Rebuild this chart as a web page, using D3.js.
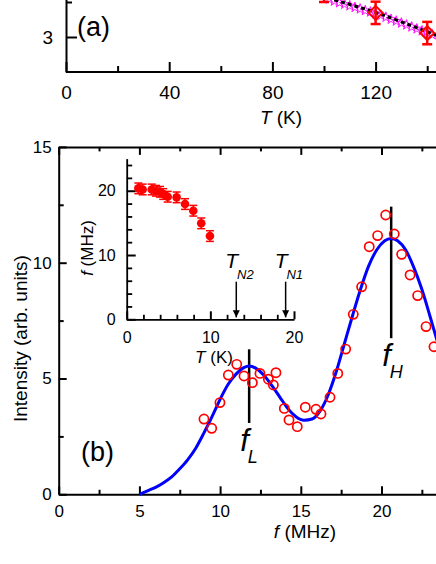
<!DOCTYPE html>
<html>
<head>
<meta charset="utf-8">
<script src="https://cdn.jsdelivr.net/npm/d3@7"></script>
<style>
html, body { margin: 0; padding: 0; background: #fff; }
svg { display: block; font-family: "Liberation Sans", Arial, sans-serif; }
</style>
</head>
<body>
<div id="chart"></div>
<script>
// ---- panel (a), only its lower edge is visible ----
const aTemp = [100, 120, 140];
const aValue = [3.66, 3.345, 3.056];
const aError = [0.16, 0.16, 0.16];
const aStarTemp = [102, 104, 106, 108, 110, 112, 114, 116, 118, 120, 122, 124, 126, 128, 130, 132, 134, 136, 138, 140, 142];
const aStarValue = [3.542, 3.513, 3.49, 3.468, 3.446, 3.423, 3.401, 3.378, 3.358, 3.335, 3.309, 3.282, 3.254, 3.228, 3.2, 3.172, 3.144, 3.116, 3.088, 3.06, 3.032];
const aFitTemp = [104, 120, 140, 146];
const aFitValue = [3.53, 3.35, 3.075, 2.99];
const aTicks = [0, 40, 80, 120];

// ---- panel (b), spectrum ----
const freq = [9.0, 9.48, 9.99, 10.51, 11.03, 11.48, 12.0, 12.47, 12.99, 13.3, 13.46, 13.98, 14.27, 14.78, 15.28, 15.94, 16.25, 16.81, 17.29, 17.78, 18.25, 18.77, 19.24, 19.76, 20.26, 20.79, 21.25, 21.77, 22.24, 22.76, 23.25];
const intensity = [3.25, 2.85, 3.96, 5.15, 5.61, 5.11, 4.82, 5.22, 4.97, 4.72, 5.25, 3.71, 3.21, 2.92, 3.76, 3.67, 3.47, 4.19, 5.22, 6.27, 7.77, 8.96, 10.69, 11.17, 12.06, 11.24, 10.36, 9.47, 8.58, 7.24, 6.37];
const fitFreq = [5, 5.5, 6, 6.5, 7, 7.5, 8, 8.5, 9, 9.5, 10, 10.5, 11, 11.5, 11.8, 12.2, 12.7, 13.2, 13.7, 14.2, 14.7, 15.2, 15.7, 16.2, 16.7, 17.2, 17.7, 18.2, 18.7, 19.2, 19.7, 20.2, 20.6, 21.0, 21.5, 22.0, 22.5, 23.0, 23.5];
const fitIntensity = [0, 0.15, 0.3, 0.5, 0.75, 1.1, 1.5, 2.0, 2.65, 3.35, 4.1, 4.75, 5.2, 5.48, 5.54, 5.45, 5.15, 4.7, 4.2, 3.7, 3.35, 3.2, 3.25, 3.6, 4.3, 5.3, 6.5, 7.7, 8.85, 9.85, 10.55, 10.95, 11.05, 10.95, 10.55, 9.8, 8.85, 7.7, 6.5];
const peakNames = ["L", "H"];
const peakFreq = [11.8, 20.6];
const peakTop = [6.26, 12.42];
const peakBottom = [3.08, 6.74];
const bTicks = [0, 5, 10, 15, 20];
const bYTicks = [0, 5, 10, 15];

// ---- inset, f versus T ----
const insetTemp = [1.39, 1.91, 2.99, 3.5, 3.98, 4.37, 4.9, 5.97, 6.97, 7.96, 8.91, 9.95];
const insetFreq = [20.37, 20.2, 20.2, 20.0, 19.84, 19.49, 19.07, 18.97, 17.93, 16.89, 14.93, 12.95];
const insetError = [0.83, 0.83, 0.83, 0.83, 0.83, 0.83, 0.83, 0.83, 0.83, 0.83, 0.83, 0.83];
const transitionNames = ["N2", "N1"];
const transitionTemp = [13.1, 19.0];

const width = 436, height = 564;
const svg = d3.select("#chart").append("svg")
    .attr("width", width)
    .attr("height", height);
svg.append("rect").attr("width", width).attr("height", height).attr("fill", "#fff");

// style helper for the axes
function styleAxis(g, fontSize) {
    g.select(".domain").attr("stroke", "#000").attr("stroke-width", 2);
    g.selectAll(".tick line").attr("stroke", "#000").attr("stroke-width", 2);
    g.selectAll(".tick text").attr("fill", "#000")
        .attr("font-size", fontSize + "px")
        .attr("font-family", "'Liberation Sans', Arial, sans-serif");
}
function minorTicks(g, w) {
    g.select(".domain").remove();
    g.selectAll("line").attr("stroke", "#000").attr("stroke-width", w || 2);
}

// ================= panel (a) =================
const xA = d3.scaleLinear().domain([0, 160]).range([66, 66 + 160 * 2.58]);
const yA = d3.scaleLinear().domain([2.5, 4]).range([72, 72 - 1.5 * 70]);

const aX = svg.append("g").attr("transform", `translate(0,${yA(2.5)})`)
    .call(d3.axisBottom(xA).tickValues(aTicks).tickSizeInner(-10).tickSizeOuter(0).tickPadding(14));
styleAxis(aX, 19);
aX.select(".domain").attr("d", `M${xA(0)},0H${xA(160)}`);
svg.append("g").attr("transform", `translate(0,${yA(2.5)})`)
    .call(d3.axisBottom(xA).tickValues([20, 60, 100, 140]).tickSize(-6).tickFormat(""))
    .call(g => minorTicks(g));

const aY = svg.append("g").attr("transform", `translate(${xA(0)},0)`)
    .call(d3.axisLeft(yA).tickValues([3]).tickFormat(d3.format("d")).tickSizeInner(-11).tickSizeOuter(0).tickPadding(13));
styleAxis(aY, 19);
svg.append("g").attr("transform", `translate(${xA(0)},0)`)
    .call(d3.axisLeft(yA).tickValues([3.5]).tickSize(-6).tickFormat(""))
    .call(g => minorTicks(g));

// stars
svg.append("g").selectAll("path")
    .data(aStarTemp)
    .join("path")
    .attr("transform", (d, i) => `translate(${xA(d)},${yA(aStarValue[i])})`)
    .attr("d", d3.symbol(d3.symbolStar, 32))
    .attr("fill", "none")
    .attr("stroke", "#ff00ff")
    .attr("stroke-width", 0.9);

// dashed fit
svg.append("path")
    .datum(aFitTemp)
    .attr("d", d3.line().x(d => xA(d)).y((d, i) => yA(aFitValue[i])).curve(d3.curveMonotoneX))
    .attr("fill", "none")
    .attr("stroke", "#000")
    .attr("stroke-width", 3)
    .attr("stroke-dasharray", "4,3");

// diamonds with error bars
const aPts = svg.append("g").selectAll("g").data(aTemp).join("g");
aPts.append("line")
    .attr("x1", d => xA(d)).attr("x2", d => xA(d))
    .attr("y1", (d, i) => yA(aValue[i] + aError[i]))
    .attr("y2", (d, i) => yA(aValue[i] - aError[i]))
    .attr("stroke", "#ff0000").attr("stroke-width", 2.5);
[1, -1].forEach(s => {
    aPts.append("line")
        .attr("x1", d => xA(d) - 5).attr("x2", d => xA(d) + 5)
        .attr("y1", (d, i) => yA(aValue[i] + s * aError[i]))
        .attr("y2", (d, i) => yA(aValue[i] + s * aError[i]))
        .attr("stroke", "#ff0000").attr("stroke-width", 2.5);
});
aPts.append("path")
    .attr("transform", (d, i) => `translate(${xA(d)},${yA(aValue[i])})`)
    .attr("d", "M0,-7L7,0L0,7L-7,0Z")
    .attr("fill", "none")
    .attr("stroke", "#ff0000")
    .attr("stroke-width", 2);

svg.append("text").attr("x", 77).attr("y", 36)
    .attr("font-size", "27px").text("(a)");

const aTitle = svg.append("text").attr("x", 281).attr("y", 124)
    .attr("text-anchor", "middle").attr("font-size", "19px");
aTitle.append("tspan").attr("font-style", "italic").text("T");
aTitle.append("tspan").text(" (K)");

// ================= panel (b) =================
const xB = d3.scaleLinear().domain([0, 25]).range([58.7, 58.7 + 25 * 16.14]);
const yB = d3.scaleLinear().domain([0, 15]).range([494.3, 146.9]);

const bX = svg.append("g").attr("transform", `translate(0,${yB(0)})`)
    .call(d3.axisBottom(xB).tickValues(bTicks).tickSizeInner(-8).tickSizeOuter(0).tickPadding(11));
styleAxis(bX, 17);
svg.append("g").attr("transform", `translate(0,${yB(0)})`)
    .call(d3.axisBottom(xB).tickValues([2.5, 7.5, 12.5, 17.5, 22.5]).tickSize(-4.5).tickFormat(""))
    .call(g => minorTicks(g));

const bTop = svg.append("g").attr("transform", `translate(0,${yB(15)})`)
    .call(d3.axisTop(xB).tickValues(bTicks).tickSizeInner(-8).tickSizeOuter(0).tickFormat(""));
styleAxis(bTop, 17);
svg.append("g").attr("transform", `translate(0,${yB(15)})`)
    .call(d3.axisTop(xB).tickValues([2.5, 7.5, 12.5, 17.5, 22.5]).tickSize(-4.5).tickFormat(""))
    .call(g => minorTicks(g));

const bY = svg.append("g").attr("transform", `translate(${xB(0)},0)`)
    .call(d3.axisLeft(yB).tickValues(bYTicks).tickSizeInner(-8).tickSizeOuter(0).tickPadding(7));
styleAxis(bY, 17);
svg.append("g").attr("transform", `translate(${xB(0)},0)`)
    .call(d3.axisLeft(yB).tickValues([2.5, 7.5, 12.5]).tickSize(-5).tickFormat(""))
    .call(g => minorTicks(g));

svg.append("text")
    .attr("transform", `translate(27,${(yB(0) + yB(15)) / 2 + 18}) rotate(-90)`)
    .attr("text-anchor", "middle").attr("font-size", "19px")
    .text("Intensity (arb. units)");

const bTitle = svg.append("text").attr("x", 305).attr("y", 538)
    .attr("text-anchor", "middle").attr("font-size", "19px");
bTitle.append("tspan").attr("font-style", "italic").text("f");
bTitle.append("tspan").text(" (MHz)");

svg.append("text").attr("x", 81).attr("y", 461)
    .attr("font-size", "27px").text("(b)");

// peak markers
peakFreq.forEach((f, i) => {
    svg.append("line")
        .attr("x1", xB(f)).attr("x2", xB(f))
        .attr("y1", yB(peakTop[i])).attr("y2", yB(peakBottom[i]))
        .attr("stroke", "#000").attr("stroke-width", 2.5);
    const t = svg.append("text")
        .attr("x", xB(f) - 9).attr("y", yB(peakBottom[i]) + 28)
        .attr("font-style", "italic").attr("font-size", "31px");
    t.append("tspan").text("f");
    t.append("tspan").attr("font-size", "18px").attr("dx", -1).attr("dy", 12).text(peakNames[i]);
});

// fit curve
svg.append("path")
    .datum(fitFreq)
    .attr("d", d3.line().x(d => xB(d)).y((d, i) => yB(fitIntensity[i])).curve(d3.curveMonotoneX))
    .attr("fill", "none")
    .attr("stroke", "#0000ff")
    .attr("stroke-width", 3);

// data circles
svg.append("g").selectAll("circle")
    .data(freq)
    .join("circle")
    .attr("cx", d => xB(d))
    .attr("cy", (d, i) => yB(intensity[i]))
    .attr("r", 4.6)
    .attr("fill", "none")
    .attr("stroke", "#ff0000")
    .attr("stroke-width", 1.7);

// ================= inset =================
const xI = d3.scaleLinear().domain([0, 20]).range([126.7, 294]);
const yI = d3.scaleLinear().domain([0, 25]).range([319.3, 158.6]);

const iX = svg.append("g").attr("transform", `translate(0,${yI(0)})`)
    .call(d3.axisBottom(xI).tickValues([0, 10, 20]).tickSizeInner(-8).tickSizeOuter(0).tickPadding(12));
styleAxis(iX, 16);
svg.append("g").attr("transform", `translate(0,${yI(0)})`)
    .call(d3.axisBottom(xI).tickValues(d3.range(2, 20, 2).filter(d => d !== 10)).tickSize(-4.5).tickFormat(""))
    .call(g => minorTicks(g, 1.8));

const iY = svg.append("g").attr("transform", `translate(${xI(0)},0)`)
    .call(d3.axisLeft(yI).tickValues([0, 10, 20]).tickSizeInner(-9).tickSizeOuter(0).tickPadding(11));
styleAxis(iY, 16);
svg.append("g").attr("transform", `translate(${xI(0)},0)`)
    .call(d3.axisLeft(yI).tickValues(d3.range(2, 25, 2).filter(d => d !== 10 && d !== 20)).tickSize(-5.5).tickFormat(""))
    .call(g => minorTicks(g, 1.8));
iX.select(".domain").attr("stroke-width", 1.8);
iY.select(".domain").attr("stroke-width", 1.8);

const iXTitle = svg.append("text").attr("x", 214).attr("y", 363)
    .attr("text-anchor", "middle").attr("font-size", "17px");
iXTitle.append("tspan").attr("font-style", "italic").text("T");
iXTitle.append("tspan").text(" (K)");

const iYTitle = svg.append("text")
    .attr("transform", `translate(93,248) rotate(-90)`)
    .attr("text-anchor", "middle").attr("font-size", "17px");
iYTitle.append("tspan").attr("font-style", "italic").text("f");
iYTitle.append("tspan").text(" (MHz)");

// transition arrows
svg.append("defs").append("marker")
    .attr("id", "arrowHead")
    .attr("viewBox", "0 0 10 10")
    .attr("refX", 10).attr("refY", 5)
    .attr("markerWidth", 7).attr("markerHeight", 9)
    .attr("markerUnits", "userSpaceOnUse")
    .attr("orient", "auto")
    .append("path").attr("d", "M0,0L10,5L0,10Z").attr("fill", "#000");

transitionTemp.forEach((t, i) => {
    svg.append("line")
        .attr("x1", xI(t)).attr("x2", xI(t))
        .attr("y1", yI(5.85)).attr("y2", yI(0.3))
        .attr("stroke", "#000").attr("stroke-width", 1.5)
        .attr("marker-end", "url(#arrowHead)");
    const lab = svg.append("text")
        .attr("x", xI(t) - 11).attr("y", yI(5.85) - 14)
        .attr("font-style", "italic").attr("font-size", "21px");
    lab.append("tspan").text("T");
    lab.append("tspan").attr("font-size", "13px").attr("dy", 11).attr("dx", -1).text(transitionNames[i]);
});

// inset points
const iPts = svg.append("g").selectAll("g").data(insetTemp).join("g");
iPts.append("line")
    .attr("x1", d => xI(d)).attr("x2", d => xI(d))
    .attr("y1", (d, i) => yI(insetFreq[i] + insetError[i]))
    .attr("y2", (d, i) => yI(insetFreq[i] - insetError[i]))
    .attr("stroke", "#ff0000").attr("stroke-width", 1.5);
[1, -1].forEach(s => {
    iPts.append("line")
        .attr("x1", d => xI(d) - 4).attr("x2", d => xI(d) + 4)
        .attr("y1", (d, i) => yI(insetFreq[i] + s * insetError[i]))
        .attr("y2", (d, i) => yI(insetFreq[i] + s * insetError[i]))
        .attr("stroke", "#ff0000").attr("stroke-width", 1.5);
});
iPts.append("circle")
    .attr("cx", d => xI(d))
    .attr("cy", (d, i) => yI(insetFreq[i]))
    .attr("r", 4.3)
    .attr("fill", "#ff0000");
</script>
</body>
</html>
